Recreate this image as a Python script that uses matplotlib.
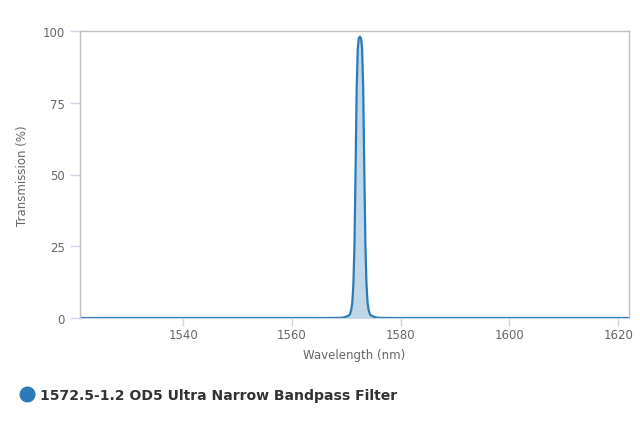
import matplotlib
matplotlib.use("Agg")
from matplotlib import pyplot as plt
from matplotlib.lines import Line2D

# wavelength (nm) and transmission (%)
wavelength = [1521.0, 1565.0, 1569.0, 1569.5, 1570.0, 1570.5, 1570.7, 1570.9,
              1571.1, 1571.3, 1571.5, 1571.7, 1571.9, 1572.1, 1572.3, 1572.5,
              1572.7, 1572.9, 1573.1, 1573.3, 1573.5, 1573.7, 1573.9, 1574.1,
              1574.3, 1574.5, 1575.0, 1575.5, 1576.0, 1580.0, 1622.0]
transmission = [0.0, 0.0, 0.05, 0.2, 0.5, 0.9, 1.5, 2.8,
                5.5, 12.0, 26.0, 52.0, 80.0, 94.0, 97.5, 98.0,
                97.5, 94.0, 80.0, 52.0, 26.0, 12.0, 5.5, 2.8,
                1.5, 0.9, 0.5, 0.2, 0.05, 0.0, 0.0]
series_name = "1572.5-1.2 OD5 Ultra Narrow Bandpass Filter"
x_ticks = [1540, 1560, 1580, 1600, 1620]
y_ticks = [0, 25, 50, 75, 100]

line_color = "#2b7bb9"
text_color = "#666666"

fig = plt.figure(figsize=(6.4, 4.27), dpi=100)
ax = fig.add_axes([80 / 640, 1 - 319 / 427, 549 / 640, 287 / 427])

ax.fill_between(wavelength, transmission, 0, color=line_color, alpha=0.3, linewidth=0)
ax.plot(wavelength, transmission, color=line_color, linewidth=1.6, solid_joinstyle="round")

ax.set_xlim(1521, 1622)
ax.set_ylim(0, 100)
ax.set_xticks(x_ticks)
ax.set_yticks(y_ticks)

# 边框和刻度样式
for side in ["left", "top", "right"]:
    ax.spines[side].set_color("#c0c0c0")
    ax.spines[side].set_linewidth(1)
ax.spines["bottom"].set_color("#ccd6eb")
ax.tick_params(axis="x", length=6, width=1, color="#ccd6eb", labelsize=8.5,
               labelcolor=text_color, pad=1)
ax.tick_params(axis="y", length=7, width=1, color="#ccd6eb", labelsize=8.5,
               labelcolor=text_color, pad=4)

ax.set_xlabel("Wavelength (nm)", color=text_color, fontsize=8.5, labelpad=5)
ax.set_ylabel("Transmission (%)", color=text_color, fontsize=8.5, labelpad=9.5)

# 图例
fig.add_artist(Line2D([27 / 640], [1 - 395 / 427], marker="o", markersize=10.5,
                      color=line_color, transform=fig.transFigure))
fig.text(40 / 640, 1 - 396 / 427, series_name, fontsize=10.1, fontweight="bold",
         color="#333333", va="center", ha="left")

fig.savefig("out.png", dpi=100)
